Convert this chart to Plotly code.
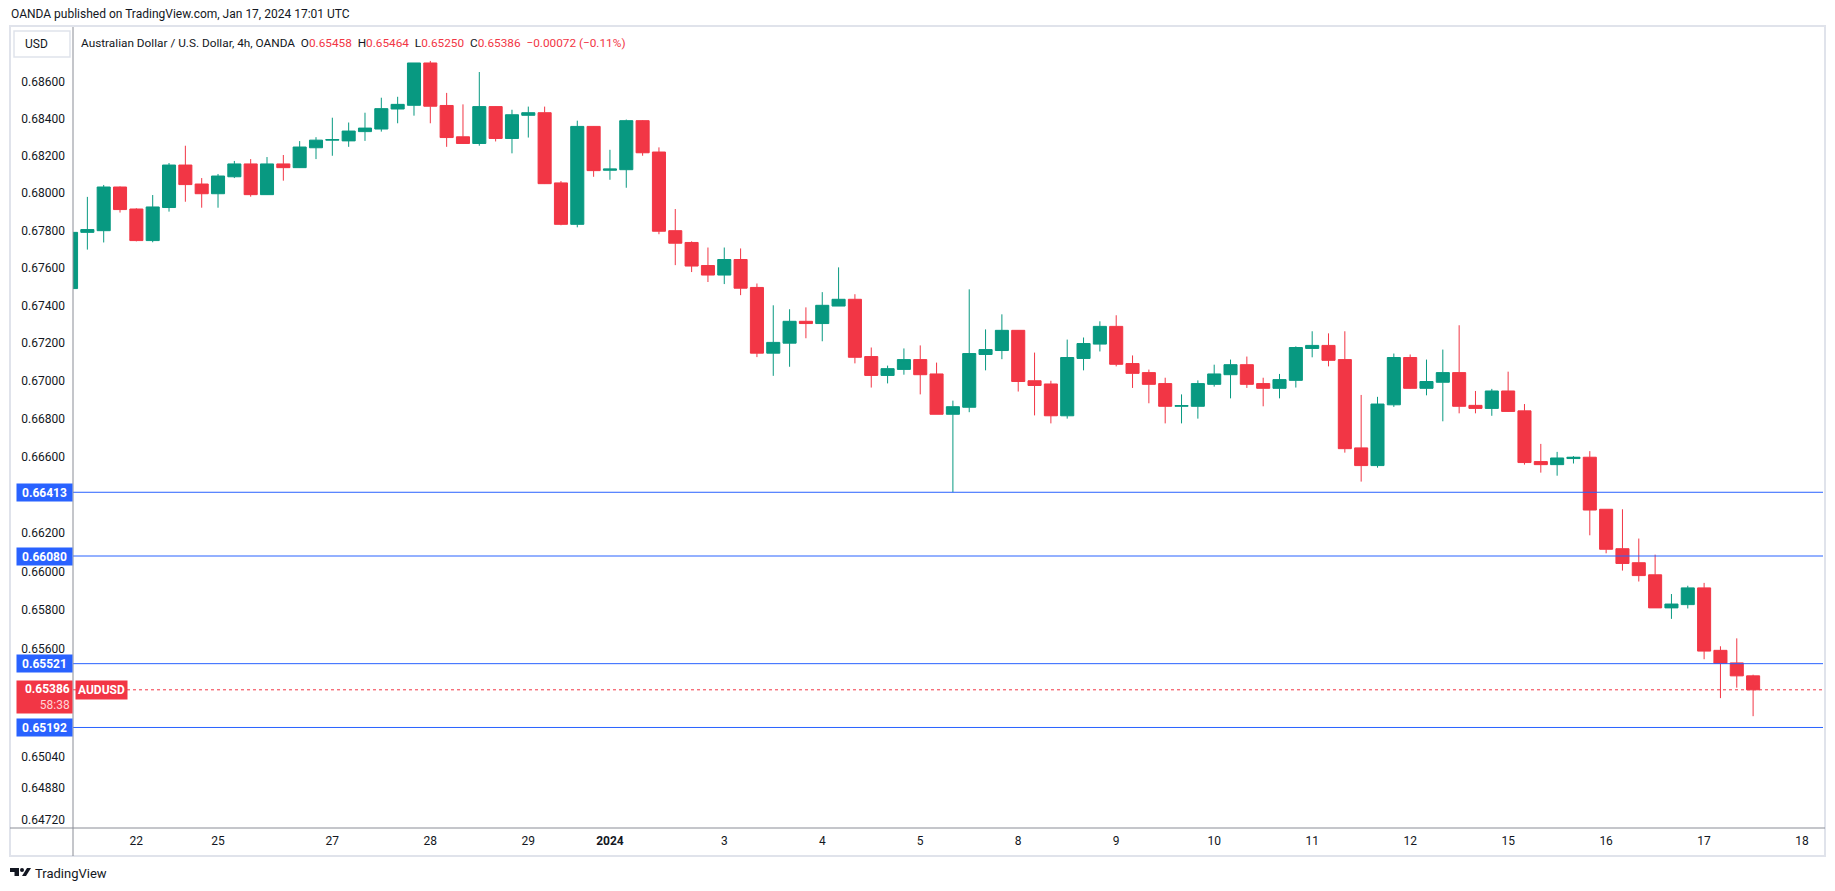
import math
import plotly.graph_objects as go

# 4h AUD/USD candles (OANDA), oldest first
opens = [0.67489, 0.67789, 0.67798, 0.68032, 0.67914, 0.67745, 0.67922, 0.68150, 0.68048, 0.67996,
         0.68087, 0.68156, 0.67991, 0.68156, 0.68136, 0.68243, 0.68284, 0.68280, 0.68330, 0.68344,
         0.68452, 0.68472, 0.68701, 0.68471, 0.68302, 0.68266, 0.68465, 0.68293, 0.68418, 0.68432,
         0.68054, 0.67832, 0.68358, 0.68122, 0.68125, 0.68389, 0.68220, 0.67798, 0.67735, 0.67612,
         0.67561, 0.67644, 0.67495, 0.67146, 0.67199, 0.67315, 0.67303, 0.67396, 0.67432, 0.67128,
         0.67028, 0.67060, 0.67112, 0.67036, 0.66823, 0.66860, 0.67139, 0.67160, 0.67267, 0.67000,
         0.66983, 0.66815, 0.67118, 0.67194, 0.67288, 0.67091, 0.67043, 0.66985, 0.66865, 0.66865,
         0.66981, 0.67032, 0.67085, 0.66985, 0.66960, 0.67002, 0.67171, 0.67187, 0.67112, 0.66646,
         0.66553, 0.66873, 0.67123, 0.66960, 0.66992, 0.67043, 0.66870, 0.66854, 0.66946, 0.66841,
         0.66574, 0.66558, 0.66590, 0.66597, 0.66324, 0.66118, 0.66045, 0.65982, 0.65810, 0.65827,
         0.65914, 0.65590, 0.65525, 0.65458]
highs = [0.67795, 0.67979, 0.68043, 0.68035, 0.67918, 0.67989, 0.68161, 0.68254, 0.68080, 0.68102,
         0.68172, 0.68182, 0.68193, 0.68204, 0.68279, 0.68300, 0.68405, 0.68379, 0.68432, 0.68513,
         0.68518, 0.68701, 0.68712, 0.68539, 0.68477, 0.68652, 0.68466, 0.68448, 0.68465, 0.68465,
         0.68064, 0.68389, 0.68360, 0.68232, 0.68395, 0.68392, 0.68245, 0.67914, 0.67741, 0.67708,
         0.67708, 0.67703, 0.67516, 0.67400, 0.67379, 0.67389, 0.67470, 0.67602, 0.67459, 0.67176,
         0.67080, 0.67171, 0.67187, 0.67096, 0.66895, 0.67485, 0.67272, 0.67352, 0.67268, 0.67149,
         0.67000, 0.67218, 0.67229, 0.67315, 0.67347, 0.67134, 0.67059, 0.67016, 0.66928, 0.67002,
         0.67085, 0.67112, 0.67128, 0.67016, 0.67036, 0.67182, 0.67262, 0.67251, 0.67262, 0.66925,
         0.66915, 0.67144, 0.67139, 0.67112, 0.67165, 0.67294, 0.66946, 0.66957, 0.67048, 0.66877,
         0.66667, 0.66625, 0.66603, 0.66629, 0.66324, 0.66324, 0.66171, 0.66087, 0.65882, 0.65925,
         0.65940, 0.65611, 0.65652, 0.65464]
lows = [0.67485, 0.67697, 0.67735, 0.67895, 0.67741, 0.67736, 0.67900, 0.67953, 0.67921, 0.67921,
        0.68080, 0.67980, 0.67990, 0.68066, 0.68134, 0.68182, 0.68200, 0.68248, 0.68280, 0.68330,
        0.68375, 0.68416, 0.68375, 0.68248, 0.68264, 0.68254, 0.68277, 0.68213, 0.68298, 0.68048,
        0.67827, 0.67816, 0.68087, 0.68071, 0.68028, 0.68200, 0.67779, 0.67614, 0.67577, 0.67524,
        0.67513, 0.67454, 0.67125, 0.67026, 0.67074, 0.67225, 0.67209, 0.67396, 0.67092, 0.66964,
        0.66986, 0.67032, 0.66928, 0.66823, 0.66413, 0.66834, 0.67055, 0.67114, 0.66943, 0.66817,
        0.66775, 0.66800, 0.67055, 0.67155, 0.67076, 0.66962, 0.66881, 0.66775, 0.66775, 0.66800,
        0.66969, 0.66907, 0.66962, 0.66865, 0.66907, 0.66964, 0.67124, 0.67076, 0.66621, 0.66469,
        0.66542, 0.66862, 0.66958, 0.66923, 0.66786, 0.66828, 0.66828, 0.66815, 0.66836, 0.66558,
        0.66516, 0.66500, 0.66564, 0.66188, 0.66094, 0.66004, 0.65947, 0.65810, 0.65753, 0.65807,
        0.65544, 0.65343, 0.65397, 0.65250]
closes = [0.67789, 0.67804, 0.68032, 0.67911, 0.67745, 0.67925, 0.68150, 0.68045, 0.67996, 0.68091,
          0.68156, 0.67991, 0.68156, 0.68136, 0.68247, 0.68284, 0.68287, 0.68333, 0.68349, 0.68454,
          0.68477, 0.68701, 0.68467, 0.68298, 0.68266, 0.68465, 0.68293, 0.68421, 0.68432, 0.68050,
          0.67832, 0.68358, 0.68120, 0.68129, 0.68389, 0.68216, 0.67795, 0.67731, 0.67609, 0.67561,
          0.67644, 0.67491, 0.67146, 0.67203, 0.67315, 0.67303, 0.67400, 0.67432, 0.67124, 0.67028,
          0.67064, 0.67112, 0.67032, 0.66823, 0.66863, 0.67144, 0.67165, 0.67267, 0.66996, 0.66975,
          0.66815, 0.67123, 0.67197, 0.67288, 0.67087, 0.67039, 0.66981, 0.66865, 0.66869, 0.66985,
          0.67036, 0.67085, 0.66981, 0.66960, 0.67006, 0.67176, 0.67187, 0.67108, 0.66642, 0.66553,
          0.66877, 0.67123, 0.66960, 0.66996, 0.67043, 0.66865, 0.66854, 0.66946, 0.66838, 0.66569,
          0.66558, 0.66593, 0.66597, 0.66320, 0.66115, 0.66041, 0.65978, 0.65810, 0.65830, 0.65914,
          0.65586, 0.65523, 0.65458, 0.65386]
bars = list(range(len(opens)))

# time axis labels (bar index where each day starts)
day_label_bars = [4, 9, 16, 22, 28, 33, 40, 46, 52, 58, 64, 70, 76, 82, 88, 94, 100, 106]
day_labels = ["22", "25", "27", "28", "29", "<b>2024</b>", "3", "4", "5", "8", "9", "10",
              "11", "12", "15", "16", "17", "18"]

price_ticks = [0.686, 0.684, 0.682, 0.680, 0.678, 0.676, 0.674, 0.672, 0.670, 0.668, 0.666,
               0.662, 0.660, 0.658, 0.656, 0.6504, 0.6488, 0.6472]
level_lines = [0.66413, 0.66080, 0.65521, 0.65192]
last_price = 0.65386
countdown = "58:38"

header = "OANDA published on TradingView.com, Jan 17, 2024 17:01 UTC"
title = "Australian Dollar / U.S. Dollar, 4h, OANDA"
legend_ohlc = [("O", "0.65458"), ("H", "0.65464"), ("L", "0.65250"), ("C", "0.65386")]
legend_change = "\u22120.00072 (\u22120.11%)"

GREEN = "#089981"
RED = "#f23645"
BLUE = "#2962ff"
TEXT = "#131722"
FRAME = "#e0e3eb"
AXIS = "#8a8d96"
FONT = "Roboto, sans-serif"

# the page body has an 8px margin, so the figure is that much smaller
OFF = 8
W, H = 1835 - OFF, 891 - OFF
PLOT_L, PLOT_R, PLOT_T, PLOT_B = 73, 1823, 30, 828   # page pixels
ML, MR, MT, MB = PLOT_L - OFF, W - (PLOT_R - OFF), PLOT_T - OFF, H - (PLOT_B - OFF)


def fx(p):
    return (p - PLOT_L) / (PLOT_R - PLOT_L)


def fy(p):
    return (PLOT_B - p) / (PLOT_B - PLOT_T)


fig = go.Figure()
fig.add_trace(go.Candlestick(
    x=bars, open=opens, high=highs, low=lows, close=closes,
    increasing=dict(line=dict(color=GREEN, width=1), fillcolor=GREEN),
    decreasing=dict(line=dict(color=RED, width=1), fillcolor=RED),
    whiskerwidth=0, showlegend=False, hoverinfo="skip",
))

shapes = []
for v in level_lines:
    shapes.append(dict(type="line", xref="paper", yref="y", x0=0, x1=1, y0=v, y1=v,
                       line=dict(color=BLUE, width=1)))
shapes.append(dict(type="line", xref="paper", yref="y", x0=0, x1=1, y0=last_price, y1=last_price,
                   line=dict(color=RED, width=1, dash="dot")))
# frame and axis lines
shapes.append(dict(type="rect", xref="paper", yref="paper", x0=fx(10), x1=fx(1825), y0=fy(26), y1=fy(856),
                   line=dict(color=FRAME, width=2)))
shapes.append(dict(type="line", xref="paper", yref="paper", x0=0, x1=0, y0=fy(27), y1=fy(856),
                   line=dict(color=AXIS, width=1)))
shapes.append(dict(type="line", xref="paper", yref="paper", x0=fx(10), x1=fx(1825), y0=0, y1=0,
                   line=dict(color=AXIS, width=1)))
# USD box
shapes.append(dict(type="rect", xref="paper", yref="paper", x0=fx(14), x1=fx(70), y0=fy(31), y1=fy(57),
                   line=dict(color=FRAME, width=1.5), fillcolor="white"))
# TradingView logo mark
shapes.append(dict(type="rect", xref="paper", yref="paper", x0=fx(10), x1=fx(19), y0=fy(868), y1=fy(872),
                   line=dict(width=0), fillcolor=TEXT))
shapes.append(dict(type="rect", xref="paper", yref="paper", x0=fx(14.5), x1=fx(19), y0=fy(868), y1=fy(876),
                   line=dict(width=0), fillcolor=TEXT))
shapes.append(dict(type="circle", xref="paper", yref="paper", x0=fx(20), x1=fx(24), y0=fy(868), y1=fy(872),
                   line=dict(width=0), fillcolor=TEXT))
shapes.append(dict(type="path", xref="paper", yref="paper",
                   path=f"M {fx(22)},{fy(876)} L {fx(27)},{fy(868)} L {fx(31)},{fy(868)} L {fx(26)},{fy(876)} Z",
                   line=dict(width=0), fillcolor=TEXT))

annotations = [
    dict(text=header, xref="paper", yref="paper", x=fx(9), y=fy(14.5), xanchor="left", yanchor="middle",
         showarrow=False, font=dict(family=FONT, size=12, color=TEXT)),
    dict(text="USD", xref="paper", yref="paper", x=fx(23), y=fy(44), xanchor="left", yanchor="middle",
         showarrow=False, font=dict(family=FONT, size=12, color=TEXT)),
    dict(text="TradingView", xref="paper", yref="paper", x=fx(33), y=fy(873), xanchor="left",
         yanchor="middle", showarrow=False, font=dict(family=FONT, size=13, color=TEXT)),
]
legend_txt = title + "&nbsp;&nbsp;" + "&nbsp;&nbsp;".join(
    f"{k}<span style='color:{RED}'>{v}</span>" for k, v in legend_ohlc)
legend_txt += f"&nbsp;&nbsp;<span style='color:{RED}'>{legend_change}</span>"
annotations.append(dict(text=legend_txt, xref="paper", yref="paper", x=fx(79), y=fy(43), xanchor="left",
                        yanchor="middle", showarrow=False, font=dict(family=FONT, size=11.8, color=TEXT)))

for v in level_lines:
    annotations.append(dict(text=f"<b>{v:.5f}</b>", xref="paper", yref="y", x=0, y=math.log10(v),
                            xanchor="right", yanchor="middle", showarrow=False, bgcolor=BLUE,
                            width=51, height=13, borderpad=2, align="center",
                            font=dict(family=FONT, size=12, color="white")))
annotations.append(dict(text=f"<b>{last_price:.5f}</b><br><span style='color:#ffd3d7'>{countdown}</span>",
                        xref="paper", yref="y", x=0, y=math.log10(last_price), yshift=-7,
                        xanchor="right", yanchor="middle", showarrow=False, bgcolor=RED,
                        width=51, height=28, borderpad=2, align="right",
                        font=dict(family=FONT, size=12, color="white")))
annotations.append(dict(text="<b>AUDUSD</b>", xref="paper", yref="y", x=fx(75), y=math.log10(last_price),
                        xanchor="left", yanchor="middle", showarrow=False, bgcolor=RED,
                        borderpad=2, font=dict(family=FONT, size=12, color="white")))

fig.update_layout(
    width=W, height=H,
    margin=dict(l=ML, r=MR, t=MT, b=MB),
    paper_bgcolor="white", plot_bgcolor="white",
    hovermode=False, showlegend=False,
    boxgap=0.2, boxgroupgap=0,
    font=dict(family=FONT, size=12, color=TEXT),
    shapes=shapes, annotations=annotations,
    xaxis=dict(range=[0.12, 107.28], rangeslider=dict(visible=False), showgrid=False, zeroline=False,
               showline=False, tickmode="array", tickvals=day_label_bars, ticktext=day_labels,
               ticks="", tickfont=dict(family=FONT, size=12, color=TEXT), ticklabelstandoff=4),
    yaxis=dict(type="log", range=[math.log10(0.64677), math.log10(0.68880)], side="left",
               showgrid=False, zeroline=False, showline=False, tickmode="array", tickvals=price_ticks,
               ticktext=[f"{v:.5f}" for v in price_ticks], ticks="",
               tickfont=dict(family=FONT, size=12, color=TEXT), ticklabelstandoff=7),
)

fig.write_html("out.html", config={"displayModeBar": False})
